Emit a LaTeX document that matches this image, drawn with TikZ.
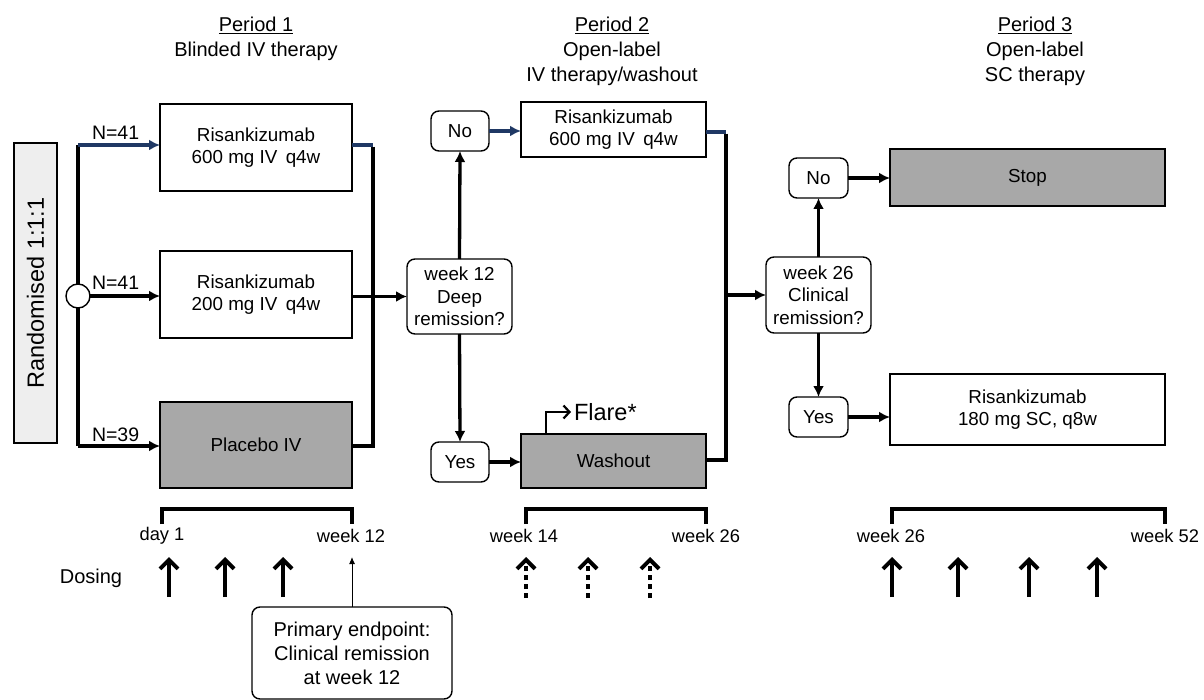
\documentclass[tikz,border=0pt]{standalone}
\usepackage{fontspec}
\setmainfont{Liberation Sans}
\usetikzlibrary{arrows.meta}
\definecolor{navy}{HTML}{1F3864}
\definecolor{boxgray}{HTML}{A8A8A8}
\definecolor{lightg}{HTML}{EEEEEE}
\begin{document}
\begin{tikzpicture}[x=1pt,y=-1pt,
  every node/.style={font=\fontsize{18.8}{22.5}\selectfont, align=center, inner sep=0pt, outer sep=0pt},
  treat/.style={draw=black, line width=2.5pt, fill=white},
  graybox/.style={treat, fill=boxgray},
  decide/.style={draw=black, line width=1.4pt, rounded corners=8pt, fill=white},
  conn/.style={line width=3.3pt},
  arr/.style={conn, -{Latex[length=11pt,width=11pt]}},
  navyarr/.style={arr, draw=navy},
  dose/.style={line width=4pt, -{Straight Barb[length=9pt,width=18pt]}},
  dosedash/.style={dose, dash pattern=on 5pt off 4pt},
  bracket/.style={line width=3.3pt},
  tl/.style={font=\fontsize{18.3}{22}\selectfont},
  head/.style={font=\fontsize{20}{25}\selectfont}
]
\useasboundingbox (0,0) rectangle (1204,700);

% headings
\node[head] (h1) at (256,38.5) {\underline{Period 1}\\Blinded IV therapy};
\node[head] (h2) at (612,51) {\underline{Period 2}\\Open-label\\IV therapy/washout};
\node[head] (h3) at (1035,51) {\underline{Period 3}\\Open-label\\SC therapy};

% randomisation
\node[draw=black, line width=2pt, fill=lightg, minimum width=43pt, minimum height=300pt] (rand) at (35.5,293) {};
\node[rotate=90, font=\fontsize{23.5}{26}\selectfont] (randt) at (rand.center) {Randomised 1:1:1};

% period 1 boxes
\node[treat, minimum width=192pt, minimum height=87pt] (b1) at (256,147.5) {Risankizumab\\600 mg IV\, q4w};
\node[treat, minimum width=192pt, minimum height=87pt] (b2) at (256,294.5) {Risankizumab\\200 mg IV\, q4w};
\node[graybox, minimum width=192pt, minimum height=86pt] (plc) at (256,445) {Placebo IV};

\coordinate (st) at (78,145);
\coordinate (sb) at (78,446);
\draw[conn] (st) -- (sb);
\node[draw=black, line width=1.4pt, fill=white, circle, minimum size=24pt] (circ) at (78,296) {};
\draw[navyarr] (st) -- (b1.west |- st);
\draw[arr] (circ.east) -- (b2.west |- circ);
\draw[arr] (sb) -- (plc.west |- sb);
\node[anchor=base west, font=\fontsize{19.5}{22}\selectfont] (n1) at (92,140) {N=41};
\node[anchor=base west, font=\fontsize{19.5}{22}\selectfont] (n2) at (92,290) {N=41};
\node[anchor=base west, font=\fontsize{19.5}{22}\selectfont] (n3) at (92,441) {N=39};

% decision 1
\node[decide, minimum width=105pt, minimum height=75pt] (d1) at (459.5,296.5) {week 12\\Deep\\remission?};
\coordinate (r1t) at (373,145);
\coordinate (r1b) at (373,446);
\draw[conn, draw=navy] (b1.east |- r1t) -- (r1t);
\draw[conn] ([yshift=-1.6pt]r1t) -- (r1b) -- (plc.east |- r1b);
\draw[arr] (b2.east |- d1) -- (d1.west);

\node[decide, minimum width=58pt, minimum height=40pt] (no1) at (460,131) {No};
\node[decide, minimum width=58pt, minimum height=40pt] (yes1) at (460,462) {Yes};
\draw[arr] (d1.north) -- (no1.south);
\draw[arr] (d1.south) -- (yes1.north);

\node[treat, minimum width=185pt, minimum height=55pt] (p2) at (613.5,129.5) {Risankizumab\\600 mg IV\, q4w};
\node[graybox, minimum width=185pt, minimum height=54pt] (wash) at (613.5,461) {Washout};
\draw[navyarr] (no1.east) -- (p2.west |- no1);
\draw[arr] (yes1.east) -- (wash.west |- yes1);

\coordinate (fl0) at (546,434);
\coordinate (fl1) at (546,412);
\coordinate (fl2) at (571,412);
\draw[line width=2.2pt, -{Straight Barb[length=6pt,width=13pt]}] (fl0) -- (fl1) -- (fl2);
\node[anchor=west, font=\fontsize{23.5}{26}\selectfont] (flare) at (574,412) {Flare*};

% decision 2
\coordinate (r2t) at (726,132);
\coordinate (r2b) at (726,460);
\draw[conn, draw=navy] (p2.east |- r2t) -- (r2t);
\draw[conn] ([yshift=-1.6pt]r2t) -- (r2b) -- (wash.east |- r2b);
\node[decide, minimum width=105pt, minimum height=76pt] (d2) at (818.5,295) {week 26\\Clinical\\remission?};
\draw[arr] (r2t |- d2) -- (d2.west);

\node[decide, minimum width=59pt, minimum height=40pt] (no2) at (818.5,178) {No};
\node[decide, minimum width=59pt, minimum height=40pt] (yes2) at (818.5,417) {Yes};
\draw[arr] (d2.north) -- (no2.south);
\draw[arr] (d2.south) -- (yes2.north);

\node[graybox, minimum width=275pt, minimum height=57pt] (stop) at (1027.5,177.5) {Stop};
\node[treat, minimum width=275pt, minimum height=71pt] (r180) at (1027.5,409.5) {Risankizumab\\180 mg SC, q8w};
\draw[arr] (no2.east) -- (stop.west |- no2);
\draw[arr] (yes2.east) -- (r180.west |- yes2);

% timelines
\draw[bracket] (162,524) -- (162,509) -- (352,509) -- (352,524);
\draw[bracket] (526,524) -- (526,509) -- (706,509) -- (706,524);
\draw[bracket] (892,524) -- (892,509) -- (1165,509) -- (1165,524);
\node[tl] (t1a) at (162,536) {day 1};
\node[tl] (t1b) at (351,536) {week 12};
\node[tl] (t2a) at (524,536) {week 14};
\node[tl] (t2b) at (706,536) {week 26};
\node[tl] (t3a) at (891,536) {week 26};
\node[tl] (t3b) at (1165,536) {week 52};

\node[font=\fontsize{20}{24}\selectfont] (dos) at (91,578) {Dosing};
\foreach \x [count=\i] in {169,225,283} {
  \coordinate (da\i) at (\x,597); \coordinate (db\i) at (\x,557);
  \draw[dose] (da\i) -- (db\i);
}
\foreach \x [count=\i] in {526,588,650} {
  \coordinate (ea\i) at (\x,598); \coordinate (eb\i) at (\x,557);
  \draw[dosedash] (ea\i) -- (eb\i);
}
\foreach \x [count=\i] in {892,958,1029,1097} {
  \coordinate (fa\i) at (\x,597); \coordinate (fb\i) at (\x,557);
  \draw[dose] (fa\i) -- (fb\i);
}

\node[decide, minimum width=200pt, minimum height=92pt, font=\fontsize{20}{24}\selectfont] (pe) at (352,653) {Primary endpoint:\\Clinical remission\\at week 12};
\coordinate (pet) at (352,557);
\draw[line width=1pt, -{Latex[length=7pt,width=6pt]}] (pe.north) -- (pet);
\end{tikzpicture}
\end{document}
